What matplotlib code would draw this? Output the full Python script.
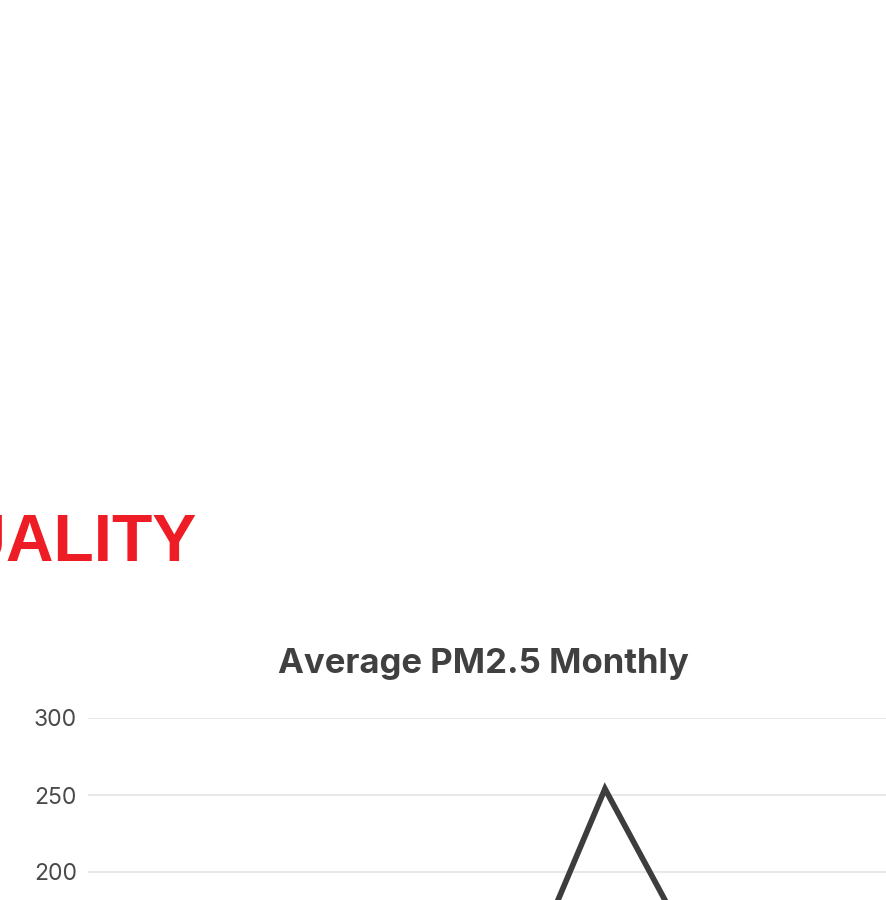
import matplotlib
matplotlib.use("Agg")
import matplotlib.pyplot as plt

months = ["Jan", "Feb", "Mar", "Apr", "May", "Jun", "Jul", "Aug", "Sep", "Oct", "Nov", "Dec"]
pm25 = [60, 75, 90, 110, 130, 120, 148, 254, 171, 120, 80, 60]
yticks = [0, 50, 100, 150, 200, 250, 300]

W, H = 886, 900
fig = plt.figure(figsize=(W / 100, H / 100), dpi=100)
fig.patch.set_facecolor("white")

# axes geometry in pixels
left_px = 88
top_px = 718
px_per_50 = 77
spacing = 68.93
bottom_px = top_px + 6 * px_per_50
width_px = spacing * 12

ax = fig.add_axes([left_px / W, 1 - bottom_px / H, width_px / W, (bottom_px - top_px) / H])
ax.set_xlim(-0.5, 11.5)
ax.set_ylim(0, 300)
ax.plot(range(len(months)), pm25, color="#3d3d3d", lw=4.1, solid_joinstyle="miter", clip_on=False)
ax.set_yticks(yticks)
ax.set_yticklabels([str(v) for v in yticks], fontsize=16.5, color="#4a4a4a",
                   family="Inter", fontweight="normal")
ax.set_xticks([])
ax.tick_params(axis="y", length=0, pad=8)
for s in ax.spines.values():
    s.set_visible(False)
ax.grid(axis="y", color="#e8e8e8", lw=1.5)
ax.set_axisbelow(True)

fig.text(196 / W, 1 - 561 / H, "AIR QUALITY", ha="right", va="baseline",
         fontsize=47.5, fontweight="bold", color="#ee1c25", family="Liberation Sans")
fig.text(483 / W, 1 - 673 / H, "Average PM2.5 Monthly", ha="center", va="baseline",
         fontsize=25, fontweight="bold", color="#404040", family="Inter")

fig.savefig("out.png", dpi=100)
